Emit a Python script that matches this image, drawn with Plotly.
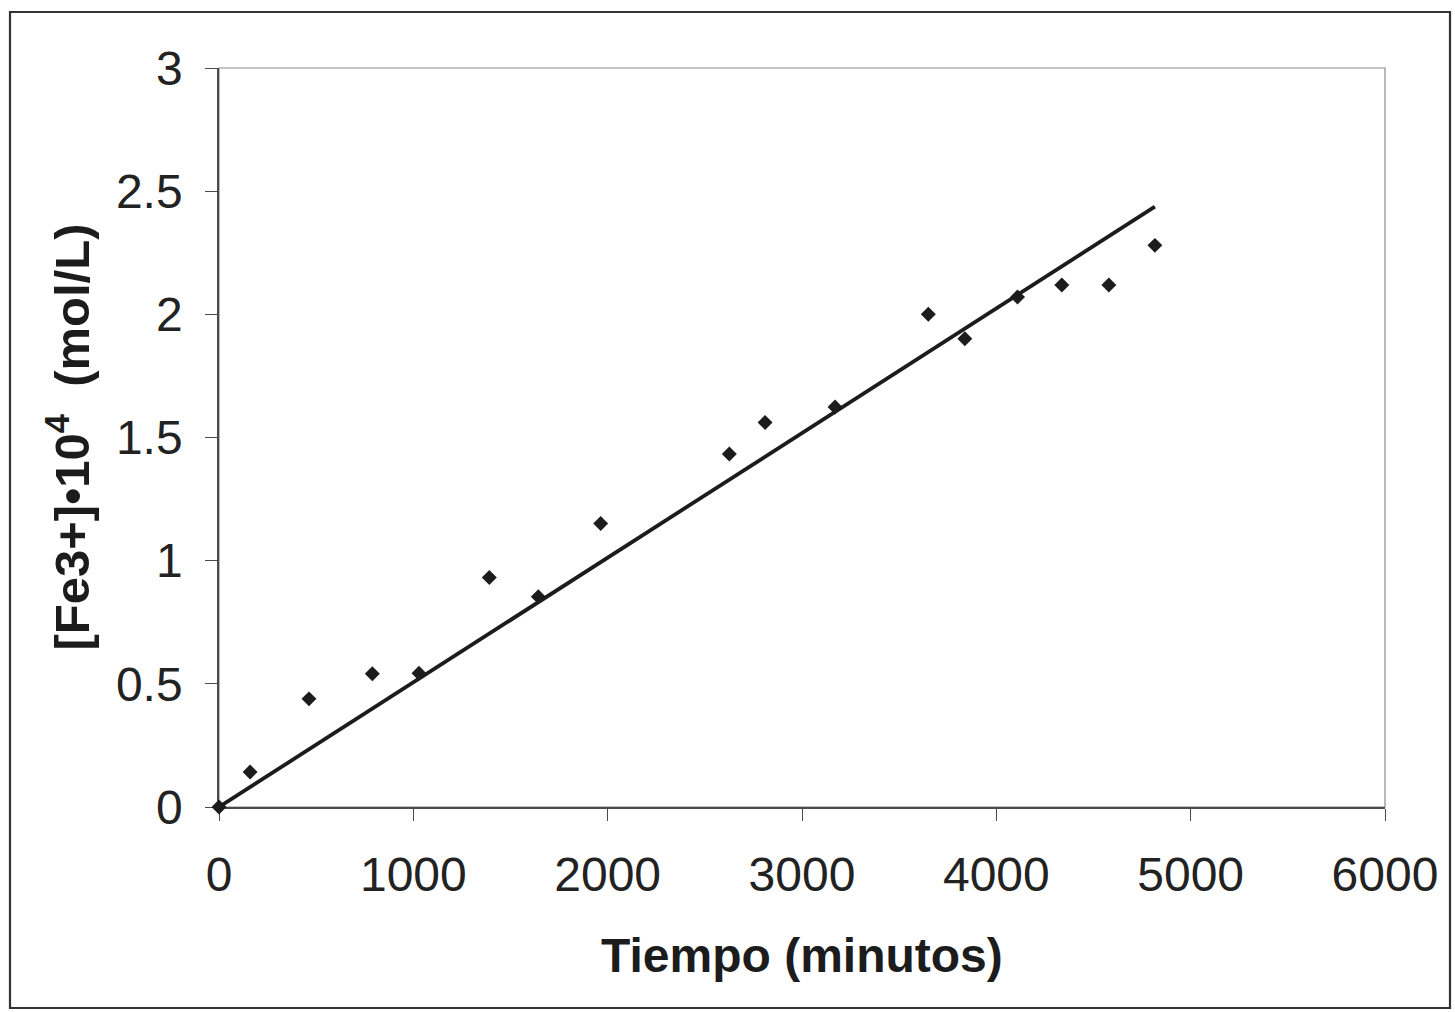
import numpy as np
import plotly.graph_objects as go

# Measured Fe3+ concentration (x 10^-4 mol/L) against elapsed time (minutes)
tiempo_min = [0, 160, 463, 789, 1029, 1391, 1643, 1964, 2626, 2810,
              3170, 3650, 3838, 4109, 4337, 4579, 4816]
fe3_conc = [0.0, 0.142, 0.439, 0.541, 0.543, 0.932, 0.854, 1.151, 1.433, 1.561,
            1.624, 2.000, 1.901, 2.070, 2.119, 2.119, 2.280]

x_ticks = [0, 1000, 2000, 3000, 4000, 5000, 6000]
y_ticks = [0, 0.5, 1, 1.5, 2, 2.5, 3]
y_tick_text = ["0", "0.5", "1", "1.5", "2", "2.5", "3"]

# Linear trend forced through the origin (least squares)
x_arr = np.array(tiempo_min, dtype=float)
y_arr = np.array(fe3_conc, dtype=float)
slope = float((x_arr * y_arr).sum() / (x_arr ** 2).sum())
trend_x = [0.0, float(x_arr.max())]
trend_y = [slope * v for v in trend_x]

W, H = 1455, 1012
M_L, M_R, M_T, M_B = 219, 70, 68, 205
PW = W - M_L - M_R
PH = H - M_T - M_B

def px_to_paper_x(px):
    return (px - M_L) / PW

def px_to_paper_y(py):
    return (H - M_B - py) / PH

FONT = "Liberation Sans, Arial, sans-serif"
INK = "#1c1c1c"
TICK_FONT = dict(size=48, family=FONT, color="#222222")

fig = go.Figure()

fig.add_trace(go.Scatter(
    x=trend_x, y=trend_y, mode="lines",
    line=dict(color=INK, width=3.8),
    showlegend=False, hoverinfo="skip",
))

fig.add_trace(go.Scatter(
    x=tiempo_min, y=fe3_conc, mode="markers",
    marker=dict(symbol="diamond", size=11.5, color=INK, line=dict(width=0)),
    cliponaxis=False, showlegend=False,
))

fig.update_layout(
    width=W, height=H,
    margin=dict(l=M_L, r=M_R, t=M_T, b=M_B, autoexpand=False),
    paper_bgcolor="white",
    plot_bgcolor="white",
    font=dict(family=FONT, color="#222222"),
    xaxis=dict(
        range=[0, 6000], tickvals=x_ticks, ticktext=[str(v) for v in x_ticks],
        showgrid=False, zeroline=False,
        showline=True, linecolor="#4a4a4a", linewidth=1.5,
        ticks="outside", ticklen=12, tickcolor="#4a4a4a", tickwidth=1.3,
        tickfont=TICK_FONT,
        ticklabelstandoff=13,
        layer="below traces",
    ),
    yaxis=dict(
        range=[0, 3], tickvals=y_ticks, ticktext=y_tick_text,
        showgrid=False, zeroline=False,
        showline=True, linecolor="#4a4a4a", linewidth=1.5,
        ticks="outside", ticklen=12, tickcolor="#4a4a4a", tickwidth=1.3,
        tickfont=TICK_FONT,
        ticklabelstandoff=13,
        layer="below traces",
    ),
)

# Light frame on the top and right of the plot area
fig.add_shape(type="rect", xref="paper", yref="paper",
              x0=0, y0=0, x1=1, y1=1,
              line=dict(color="#8a8a8a", width=1.2), layer="below")

# Outer border around the whole chart
fig.add_shape(type="rect", xref="paper", yref="paper",
              x0=px_to_paper_x(10), x1=px_to_paper_x(1450),
              y0=px_to_paper_y(1008), y1=px_to_paper_y(12),
              line=dict(color="#333333", width=2.2))

# Axis titles
fig.add_annotation(
    text="<b>Tiempo (minutos)</b>",
    xref="paper", yref="paper",
    x=0.5, y=px_to_paper_y(955), xanchor="center", yanchor="middle",
    showarrow=False, font=dict(size=48, family=FONT, color="#1c1c1c"),
)
fig.add_annotation(
    text="<b>[Fe3+]•10<sup>4</sup>\u00a0\u00a0(mol/L)</b>",
    xref="paper", yref="paper",
    x=px_to_paper_x(68), y=0.5, xanchor="center", yanchor="middle",
    textangle=-90,
    showarrow=False, font=dict(size=49, family=FONT, color="#1c1c1c"),
)

fig.write_html("out.html")
